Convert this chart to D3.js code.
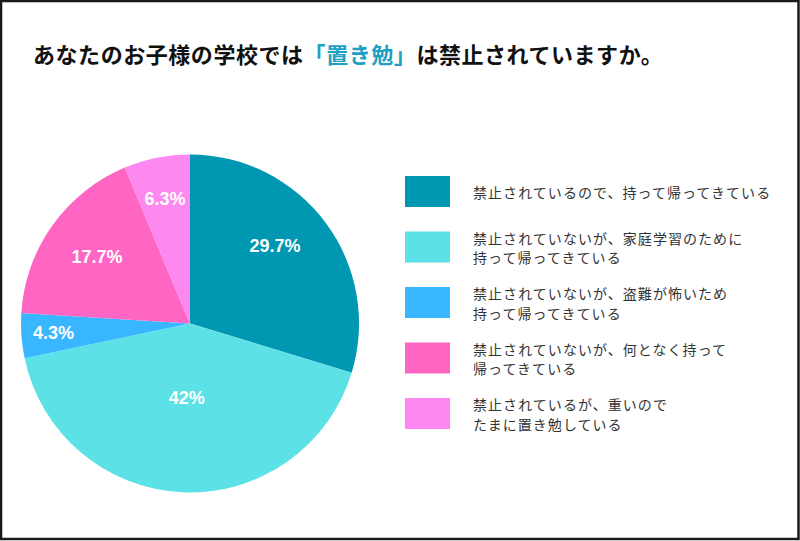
<!DOCTYPE html>
<html><head><meta charset="utf-8">
<script src="https://cdn.jsdelivr.net/npm/d3@7/dist/d3.min.js"></script>
<style>
html,body{margin:0;padding:0;background:#fff;}
svg{display:block;}
</style></head>
<body>
<svg id="chart" width="800" height="541"></svg>
<script>
const categories = [
  ["禁止されているので、持って帰ってきている"],
  ["禁止されていないが、家庭学習のために", "持って帰ってきている"],
  ["禁止されていないが、盗難が怖いため", "持って帰ってきている"],
  ["禁止されていないが、何となく持って", "帰ってきている"],
  ["禁止されているが、重いので", "たまに置き勉している"]
];
const values = [29.7, 42, 4.3, 17.7, 6.3];
const valueLabels = ["29.7%", "42%", "4.3%", "17.7%", "6.3%"];
const colors = ["#0097B2", "#5CE1E6", "#38B6FF", "#FF66C4", "#FC88F0"];
const titleParts = [
  {t: "あなたのお子様の学校では", c: "#111"},
  {t: "「置き勉」", c: "#1E9FC4"},
  {t: "は禁止されていますか。", c: "#111"}
];

const svg = d3.select("#chart");
const W = 800, H = 541;

// frame
svg.append("rect").attr("x", 1).attr("y", 1).attr("width", W - 2.5).attr("height", H - 3)
  .attr("fill", "#fff").attr("stroke", "#1a1a1a").attr("stroke-width", 2.5);

// title
const title = svg.append("text").attr("x", 33).attr("y", 53)
  .attr("dominant-baseline", "central")
  .attr("font-family", "'Noto Sans CJK JP', sans-serif")
  .attr("font-weight", "bold").attr("font-size", 22).attr("letter-spacing", 0.55);
titleParts.forEach(p => title.append("tspan").attr("fill", p.c).text(p.t));

// pie
const cx = 190, cy = 323.5, R = 169;
const pie = d3.pie().sort(null).value(d => d)(values);
const arc = d3.arc().innerRadius(0).outerRadius(R);
const g = svg.append("g").attr("transform", `translate(${cx},${cy})`);
g.selectAll("path").data(pie).join("path")
  .attr("d", arc).attr("fill", (d, i) => colors[i]);

// label radial placement (fraction of radius), per slice layout
const labelFrac = [0.68, 0.44, 0.81, 0.675, 0.75];
const labelAngleShift = [-0.1, 0, 0, 0, 0];
g.selectAll("text.lbl").data(pie).join("text")
  .attr("class", "lbl")
  .attr("transform", (d, i) => {
    const a = (d.startAngle + d.endAngle) / 2 + labelAngleShift[i];
    const r = R * labelFrac[i];
    return `translate(${r * Math.sin(a)},${-r * Math.cos(a)})`;
  })
  .attr("text-anchor", "middle").attr("dominant-baseline", "central")
  .attr("fill", "#fff").attr("font-weight", "bold").attr("font-size", 18)
  .attr("font-family", "'Liberation Sans', Arial, sans-serif")
  .text((d, i) => valueLabels[i]);

// legend
const ly = d3.scaleLinear().domain([0, 1]).range([176, 231.5]);
const items = svg.append("g").selectAll("g").data(categories).join("g")
  .attr("transform", (d, i) => `translate(0,${ly(i)})`);
items.append("rect").attr("x", 405).attr("y", 0).attr("width", 45).attr("height", 31)
  .attr("fill", (d, i) => colors[i]);
items.each(function(lines) {
  const t = d3.select(this).append("text")
    .attr("font-family", "'Noto Sans CJK JP', sans-serif")
    .attr("font-size", 14).attr("fill", "#333").attr("letter-spacing", 1.05)
    .attr("dominant-baseline", "central");
  if (lines.length === 1) {
    t.append("tspan").attr("x", 473).attr("y", 16).text(lines[0]);
  } else {
    lines.forEach((l, k) => t.append("tspan").attr("x", 473).attr("y", 6 + k * 19.5).text(l));
  }
});
</script>
</body></html>
